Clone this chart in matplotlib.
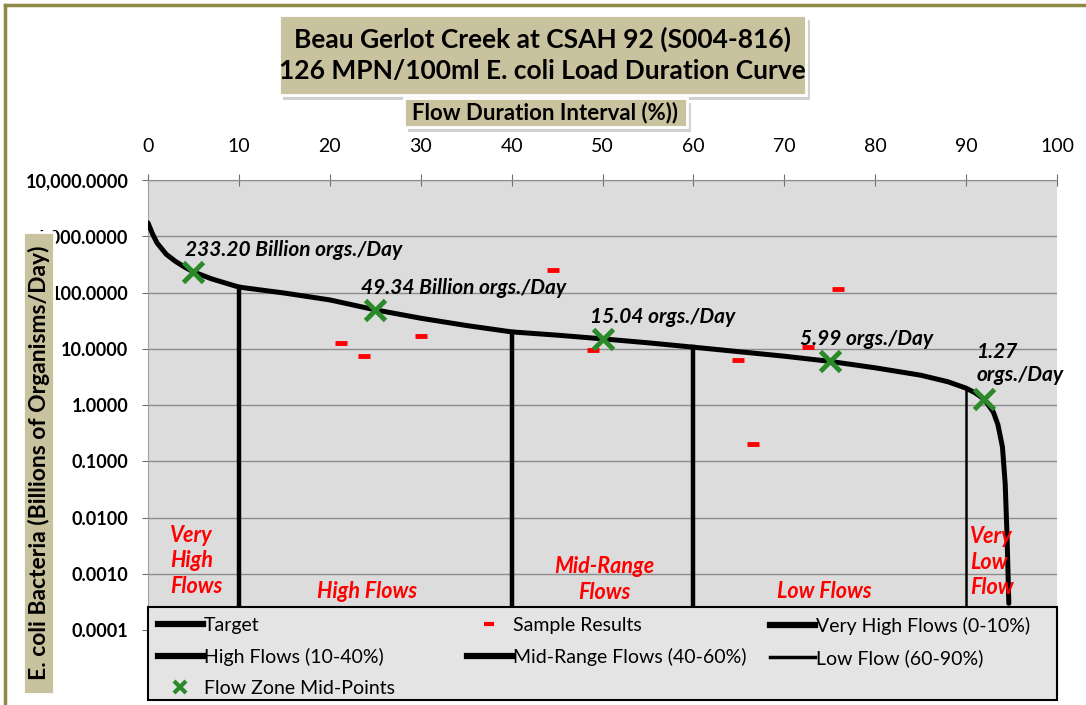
import matplotlib
matplotlib.use("Agg")
import matplotlib.pyplot as plt
from matplotlib.lines import Line2D
from matplotlib.patches import Rectangle
from matplotlib.ticker import FuncFormatter, NullLocator

plt.rcParams["font.family"] = ["Lato", "DejaVu Sans"]

W, H = 1086, 705

# target load duration curve, billions of organisms per day
flow_pct = [0, 0.5, 1, 2, 3, 4, 5, 7, 10, 15, 20, 25, 30, 35, 40, 45, 50, 55, 60,
            65, 70, 75, 80, 85, 88, 90, 91, 92, 93, 93.5, 94, 94.3, 94.5, 94.7]
target_load = [1730, 1100, 760, 480, 360, 285, 233.2, 175, 125, 98, 74, 49.34, 35,
               26, 20, 17.5, 15.04, 12.8, 10.7, 8.9, 7.4, 5.99, 4.6, 3.4, 2.6, 2.0,
               1.65, 1.27, 0.75, 0.45, 0.18, 0.04, 0.005, 0.0003]

# monitoring samples
sample_pct = [21.2, 23.8, 30.0, 44.6, 49.0, 64.9, 66.6, 72.6, 75.9]
sample_load = [12.7, 7.4, 16.9, 251, 9.5, 6.3, 0.20, 10.7, 116]

# flow zone mid-points
midpoint_pct = [5, 25, 50, 75, 92]
midpoint_load = [233.20, 49.34, 15.04, 5.99, 1.27]
midpoint_text = ["233.20 Billion orgs./Day", "49.34 Billion orgs./Day",
                 "15.04 orgs./Day", "5.99 orgs./Day", "1.27\norgs./Day"]

# zone boundaries
boundary_pct = [10, 40, 60, 90]
boundary_top = [125, 20, 10.7, 2.0]
boundary_bottom = 1e-4
boundary_names = ["Very High Flows (0-10%)", "High Flows (10-40%)",
                  "Mid-Range Flows (40-60%)", "Low Flow (60-90%)"]

zone_names = ["Very\nHigh\nFlows", "High Flows", "Mid-Range\nFlows", "Low Flows",
              "Very\nLow\nFlow"]

TAN = "#c9c29e"
GREEN = "#2a8a2a"


def px_box(x0, y0, x1, y1):
    """pixel box (top-left origin) -> figure fraction rect"""
    return (x0 / W, 1 - y1 / H), (x1 - x0) / W, (y1 - y0) / H


fig = plt.figure(figsize=(W / 100, H / 100), dpi=100)
AX_L, AX_R, AX_T, AX_B = 148, 1057, 180, 700
ax = fig.add_axes([AX_L / W, 1 - AX_B / H, (AX_R - AX_L) / W, (AX_B - AX_T) / H])
ax.set_facecolor("#dcdcdc")

ax.set_yscale("log")
ax.set_ylim(10 ** -5.24, 1e4)
ax.set_xlim(0, 100)
ax.xaxis.tick_top()
ax.set_xticks(range(0, 101, 10))
ax.set_yticks([10.0 ** k for k in range(-4, 5)])
ax.yaxis.set_minor_locator(NullLocator())
ax.yaxis.set_major_formatter(FuncFormatter(lambda v, p: f"{v:,.4f}"))
ax.grid(axis="y", color="#8c8c8c", lw=1)
ax.set_axisbelow(True)
for side in ("right", "bottom"):
    ax.spines[side].set_visible(False)
ax.spines["top"].set_color("#8c8c8c")
ax.spines["left"].set_color("#a0a0a0")
ax.tick_params(axis="x", direction="inout", length=8, pad=14, labelsize=14,
               color="#707070")
ax.tick_params(axis="y", direction="out", length=4, pad=10, labelsize=13,
               color="#707070")
for lbl in ax.get_yticklabels():
    lbl.set_fontweight("bold")

# zone boundary lines
for i, (p, top) in enumerate(zip(boundary_pct, boundary_top)):
    lw = 1.8 if i == len(boundary_pct) - 1 else 3.2
    ax.plot([p, p], [boundary_bottom, top], color="black", lw=lw, zorder=3)

ax.plot(flow_pct, target_load, color="black", lw=3.6, solid_capstyle="round",
        zorder=4)
ax.plot(sample_pct, sample_load, ls="none", marker="_", ms=9, mew=3.5,
        color="#ff0000", zorder=5)
ax.plot(midpoint_pct, midpoint_load, ls="none", marker="x", ms=14, mew=3.5,
        color=GREEN, zorder=6)

offsets = [(-8, 22), (-14, 22), (-12, 22), (-30, 22), (-8, 36)]
for x, y, txt, off in zip(midpoint_pct, midpoint_load, midpoint_text, offsets):
    ax.annotate(txt, (x, y), xytext=off, textcoords="offset pixels",
                fontsize=15, fontweight="bold", style="italic",
                ha="left", va="center", linespacing=1.2, zorder=7)

zone_pos = [(2.4, -2.77, "left"), (24.1, -3.31, "center"), (50.2, -3.10, "center"),
            (74.4, -3.31, "center"), (90.4, -2.79, "left")]
for name, (x, ly, ha) in zip(zone_names, zone_pos):
    ax.text(x, 10 ** ly, name, color="#ff0000", fontsize=15.5, fontweight="bold",
            style="italic", ha=ha, va="center", linespacing=1.25, zorder=7)

# legend: frame spans the plot width, one legend per column
LEG_T = 607
ax.add_patch(Rectangle((0, 0), 1, (AX_B - LEG_T) / (AX_B - AX_T),
                       transform=ax.transAxes, fc="#e4e4e4", ec="black", lw=1.5,
                       zorder=9, clip_on=False))

thick = dict(color="black", lw=4.5)
columns = [
    [(Line2D([], [], **thick), "Target"),
     (Line2D([], [], **thick), boundary_names[1]),
     (Line2D([], [], ls="none", marker="x", ms=9, mew=3, color=GREEN),
      "Flow Zone Mid-Points")],
    [(Line2D([], [], ls="none", marker="_", ms=7, mew=3, color="#ff0000"),
      "Sample Results"),
     (Line2D([], [], **thick), boundary_names[2])],
    [(Line2D([], [], **thick), boundary_names[0]),
     (Line2D([], [], color="black", lw=2.5), boundary_names[3])],
]
col_x = [158, 467, 770]
for i, (cx, col) in enumerate(zip(col_x, columns)):
    hs, ls = zip(*col)
    leg = ax.legend(hs, ls, loc="upper left",
                    bbox_to_anchor=((cx - AX_L) / (AX_R - AX_L),
                                    (AX_B - 617) / (AX_B - AX_T)),
                    frameon=False, fontsize=14, handlelength=2.3,
                    handletextpad=0.05, borderpad=0, borderaxespad=0,
                    labelspacing=0.72)
    leg.set_zorder(10)
    if i < len(columns) - 1:
        ax.add_artist(leg)

# outer frame on top and left
fig.add_artist(Line2D([5 / W, 5 / W], [0, 1 - 5 / H], transform=fig.transFigure,
                      color="#8f8744", lw=2.5))
fig.add_artist(Line2D([5 / W, 1], [1 - 5 / H, 1 - 5 / H], transform=fig.transFigure,
                      color="#8f8744", lw=2.5))


def tan_box(x0, y0, x1, y1, shadow=True):
    if shadow:
        xy, w, h = px_box(x0 + 4, y0 + 5, x1 + 4, y1 + 5)
        fig.add_artist(Rectangle(xy, w, h, transform=fig.transFigure,
                                 fc="#9a9a9a", ec="none", alpha=0.45, zorder=4))
    xy, w, h = px_box(x0, y0, x1, y1)
    fig.add_artist(Rectangle(xy, w, h, transform=fig.transFigure, fc=TAN,
                             ec="white", lw=2, zorder=5))


tan_box(279, 15, 806, 95)
fig.text(542 / W, 1 - 55 / H,
         "Beau Gerlot Creek at CSAH 92 (S004-816)\n"
         "126 MPN/100ml E. coli Load Duration Curve",
         ha="center", va="center", fontsize=19, fontweight="bold",
         linespacing=1.38, zorder=6)

tan_box(404, 98, 687, 127)
fig.text(545 / W, 1 - 113 / H, "Flow Duration Interval (%))", ha="center",
         va="center", fontsize=16, fontweight="bold", zorder=6)

tan_box(23, 232, 54, 694, shadow=False)
fig.text(38.5 / W, 1 - 463 / H, "E. coli Bacteria (Billions of Organisms/Day)",
         rotation=90, ha="center", va="center", fontsize=16.5, fontweight="bold",
         zorder=6)

fig.savefig("out.png", dpi=100)
